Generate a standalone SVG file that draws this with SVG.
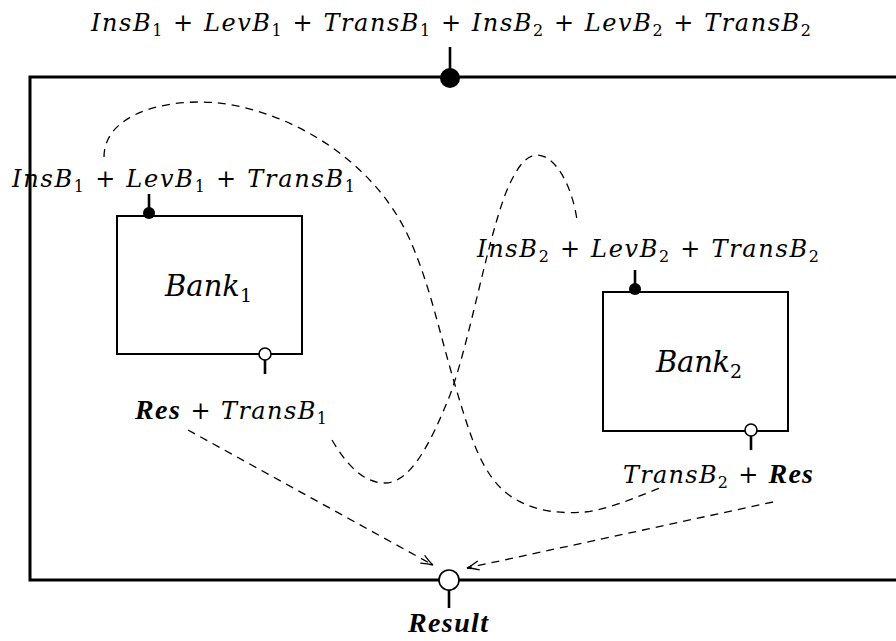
<svg xmlns="http://www.w3.org/2000/svg" width="896" height="641" viewBox="0 0 896 641">
<style>
.frame{fill:none;stroke:#000;stroke-width:3}
.box{fill:#fff;stroke:#000;stroke-width:2}
.stem{stroke:#000;stroke-width:2.6}
.pin{fill:#000}
.opin{fill:#fff;stroke:#000;stroke-width:1.6}
.dash{fill:none;stroke:#000;stroke-width:1.3;stroke-dasharray:8 6}
.lbl{font-family:'DejaVu Serif',serif;font-style:italic;font-size:24px;fill:#000}
.big{font-size:29px}
.rm{font-style:normal}
.sub{font-style:normal;font-size:16px}
.bsub{font-style:normal;font-size:19px}
.ti{font-family:'Liberation Serif','Times New Roman',serif;font-weight:bold;font-size:28px}
</style>
<defs>
<marker id="arr" markerWidth="14" markerHeight="12" refX="13" refY="6" orient="auto" markerUnits="userSpaceOnUse">
<path d="M1,1.5 Q8,4.8 13,6 Q8,7.2 1,10.5" fill="none" stroke="#000" stroke-width="1.3"/>
</marker>
</defs>
<rect width="896" height="641" fill="#fff"/>
<g id="system">
<path class="frame" d="M900,77 H30 V580 H900"/>
<line class="stem" x1="450" y1="47" x2="450" y2="72"/>
<circle class="pin" cx="450" cy="78" r="10"/>
<text class="lbl" x="91" y="31" textLength="720" lengthAdjust="spacing">InsB<tspan class="sub" dy="5">1</tspan><tspan class="rm" dy="-5"> + </tspan>LevB<tspan class="sub" dy="5">1</tspan><tspan class="rm" dy="-5"> + </tspan>TransB<tspan class="sub" dy="5">1</tspan><tspan class="rm" dy="-5"> + </tspan>InsB<tspan class="sub" dy="5">2</tspan><tspan class="rm" dy="-5"> + </tspan>LevB<tspan class="sub" dy="5">2</tspan><tspan class="rm" dy="-5"> + </tspan>TransB<tspan class="sub" dy="5">2</tspan></text>
<line class="stem" x1="449" y1="590" x2="449" y2="608"/>
<circle class="opin" cx="449" cy="580" r="10"/>
<text class="lbl ti" x="408" y="632" textLength="80" lengthAdjust="spacing">Result</text>
</g>
<g id="connectors">
<path class="dash" d="M104,157 C104,120 150,102 200,102 C270,102 370,150 410,240 C430,285 440,335 455,385 C470,435 480,470 505,492 C530,512 560,514 585,512 C615,508 640,495 663,487"/>
<path class="dash" d="M332,440 C345,462 362,483 385,483 C410,483 430,445 450,395 C470,340 485,250 505,195 C515,170 525,155 537,155 C555,155 572,185 577,220"/>
<path class="dash" d="M188,430 L433,565" marker-end="url(#arr)"/>
<path class="dash" d="M773,502 L467,568" marker-end="url(#arr)"/>
</g>
<g id="bank1">
<rect class="box" x="117" y="216" width="185" height="138"/>
<line class="stem" x1="149" y1="194" x2="149" y2="208"/>
<circle class="pin" cx="149" cy="213" r="6"/>
<line class="stem" x1="265" y1="360" x2="265" y2="374"/>
<circle class="opin" cx="265" cy="354" r="6"/>
<text class="lbl" x="12" y="187" textLength="343" lengthAdjust="spacing">InsB<tspan class="sub" dy="5">1</tspan><tspan class="rm" dy="-5"> + </tspan>LevB<tspan class="sub" dy="5">1</tspan><tspan class="rm" dy="-5"> + </tspan>TransB<tspan class="sub" dy="5">1</tspan></text>
<text class="lbl big" x="165" y="296" textLength="87" lengthAdjust="spacing">Bank<tspan class="bsub" dy="6">1</tspan></text>
<text class="lbl" x="135" y="419" textLength="192" lengthAdjust="spacing"><tspan class="ti">Res</tspan><tspan class="rm"> + </tspan>TransB<tspan class="sub" dy="5">1</tspan></text>
</g>
<g id="bank2">
<rect class="box" x="603" y="292" width="185" height="139"/>
<line class="stem" x1="635" y1="270" x2="635" y2="284"/>
<circle class="pin" cx="635" cy="289" r="6"/>
<line class="stem" x1="751" y1="436" x2="751" y2="450"/>
<circle class="opin" cx="751" cy="430" r="6"/>
<text class="lbl" x="477" y="257" textLength="342" lengthAdjust="spacing">InsB<tspan class="sub" dy="5">2</tspan><tspan class="rm" dy="-5"> + </tspan>LevB<tspan class="sub" dy="5">2</tspan><tspan class="rm" dy="-5"> + </tspan>TransB<tspan class="sub" dy="5">2</tspan></text>
<text class="lbl big" x="656" y="372" textLength="86" lengthAdjust="spacing">Bank<tspan class="bsub" dy="6">2</tspan></text>
<text class="lbl" x="623" y="483" textLength="190" lengthAdjust="spacing">TransB<tspan class="sub" dy="5">2</tspan><tspan class="rm" dy="-5"> + </tspan><tspan class="ti">Res</tspan></text>
</g>
</svg>
